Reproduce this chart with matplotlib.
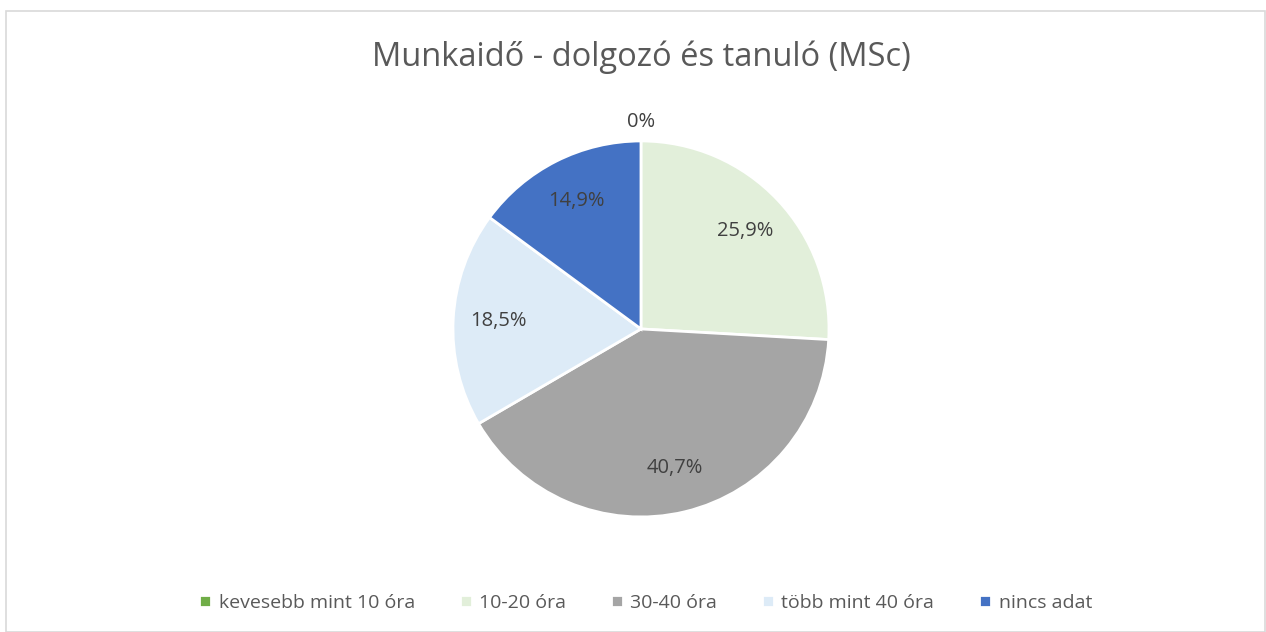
import matplotlib.pyplot as plt
from matplotlib.patches import Rectangle

categories = ["kevesebb mint 10 óra", "10-20 óra", "30-40 óra", "több mint 40 óra", "nincs adat"]
values = [0.0, 25.9, 40.7, 18.5, 14.9]
colors = ["#70AD47", "#E2EFDA", "#A5A5A5", "#DDEBF7", "#4472C4"]

plt.rcParams['font.family'] = ['Open Sans', 'DejaVu Sans']

fig = plt.figure(figsize=(12.66, 6.32), dpi=100)
fig.patches.append(Rectangle((6 / 1266, 0), 1 - 7 / 1266, 1 - 11 / 632, transform=fig.transFigure,
                             fill=False, edgecolor="#D9D9D9", linewidth=1.2))

ax = fig.add_axes([0.3578, 0.182, 0.297, 0.595])


def fmt(p):
    if p < 0.05:
        return "0%"
    return f"{p:.1f}%".replace(".", ",")


wedges, texts, autotexts = ax.pie(values, colors=colors, startangle=90, counterclock=False,
                                  autopct=fmt, pctdistance=0.76,
                                  wedgeprops=dict(edgecolor="white", linewidth=2),
                                  textprops=dict(color="#404040", fontsize=14.5))
# the empty slice: label sits outside the pie
autotexts[0].set_position((0, 1.1))

ax.set_xlim(-1, 1)
ax.set_ylim(-1, 1)
ax.set_aspect("equal")

fig.text(0.5067, 1 - 57 / 632, "Munkaidő - dolgozó és tanuló (MSc)", ha="center", va="center",
         fontsize=23.5, color="#595959")

fig.legend(wedges, categories, loc="center", bbox_to_anchor=(0.510, 1 - 603 / 632), ncol=5,
           frameon=False, fontsize=14, handlelength=0.6, handleheight=0.6, handletextpad=0.4,
           columnspacing=2.3, labelcolor="#595959")

fig.savefig("out.png", dpi=100)
